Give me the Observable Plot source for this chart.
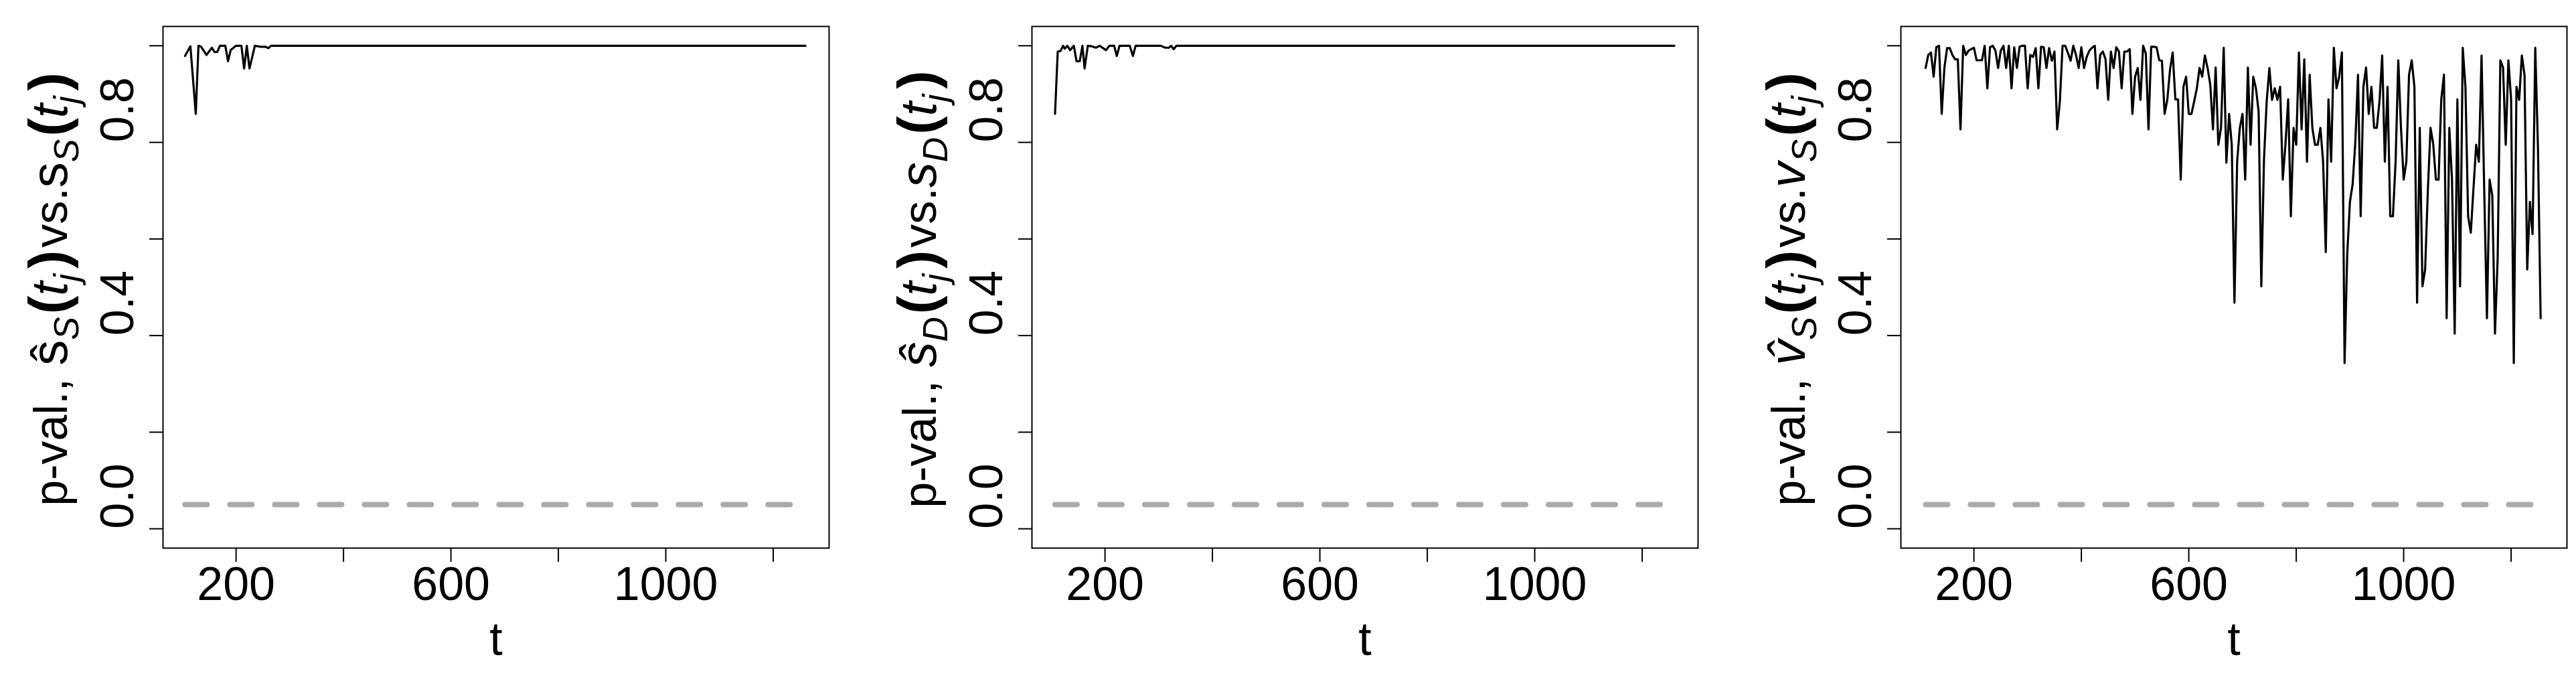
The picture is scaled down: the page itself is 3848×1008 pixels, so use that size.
<!DOCTYPE html>
<html><head><meta charset="utf-8">
<script src="https://cdn.jsdelivr.net/npm/d3@7"></script>
<script src="https://cdn.jsdelivr.net/npm/@observablehq/plot@0.6"></script>
<style>
html,body{margin:0;padding:0;background:#fff;}
#wrap{position:relative;width:3848px;height:1008px;overflow:hidden;background:#fff;}
#wrap > svg{position:absolute;top:0;}
</style></head><body><div id="wrap"></div>
<script>
// Panel 1: p-values, s_S-hat vs s_S (flat at 1 after ~270)
const t1 = [105,115,125,130,135,145,155,160,165,170,180,185,190,200,210,215,220,225,235,245,255,260,265,1260];
const p1 = [0.979,0.999,0.859,1.0,0.998,0.981,0.996,0.987,0.987,1.0,1.0,0.968,0.991,1.0,1.0,0.953,1.0,0.953,1.0,0.998,0.998,0.995,1.0,1.0];

// Panel 2: p-values, s_D-hat vs s_D (flat at 1 after ~335)
const t2 = [107,112,117,122,125,130,135,142,147,153,158,162,168,175,183,190,202,208,217,222,227,246,252,257,304,312,319,323,328,333,1260];
const p2 = [0.859,0.988,0.989,1.0,0.994,1.0,0.991,1.0,0.968,0.968,1.0,0.953,1.0,0.999,0.996,1.0,0.991,1.0,1.0,0.979,1.0,1.0,0.979,1.0,1.0,0.996,0.996,1.0,0.993,1.0,1.0];

// Panel 3: p-values, v_S-hat vs v_S
const t3 = [
  110,115,120,125,130,135,140,145,150,155,
  160,165,170,175,180,185,190,195,200,205,
  210,215,220,225,230,235,240,245,250,255,
  260,265,270,275,280,285,290,295,300,305,
  310,315,320,325,330,335,340,345,350,355,
  360,365,370,375,380,385,390,395,400,405,
  410,415,420,425,430,435,440,445,450,455,
  460,465,470,475,480,485,490,495,500,505,
  510,515,520,525,530,535,540,545,550,555,
  560,565,570,575,580,585,590,595,600,605,
  610,615,620,625,630,635,640,645,650,655,
  660,665,670,675,680,685,690,695,700,705,
  710,715,720,725,730,735,740,745,750,755,
  760,765,770,775,780,785,790,795,800,805,
  810,815,820,825,830,835,840,845,850,855,
  860,865,870,875,880,885,890,895,900,905,
  910,915,920,925,930,935,940,945,950,955,
  960,965,970,975,980,985,990,995,1000,1005,
  1010,1015,1020,1025,1030,1035,1040,1045,1050,1055,
  1060,1065,1070,1075,1080,1085,1090,1095,1100,1105,
  1110,1115,1120,1125,1130,1135,1140,1145,1150,1155,
  1160,1165,1170,1175,1180,1185,1190,1195,1200,1205,
  1210,1215,1220,1225,1230,1235,1240,1245,1250,1255
];
const p3 = [
  0.954,0.981,0.986,0.936,0.997,1.0,0.859,0.954,0.995,0.995,
  0.981,0.972,0.972,0.827,1.0,0.981,0.990,0.993,0.996,0.970,
  0.970,0.970,1.0,0.912,0.997,1.0,0.990,0.954,0.990,1.0,
  0.954,1.0,0.912,0.997,0.954,0.998,1.0,1.0,0.912,0.981,
  0.977,0.995,0.912,0.998,0.997,0.954,0.995,0.969,0.988,0.827,
  0.885,1.0,1.0,0.985,0.969,1.0,0.981,0.954,0.997,0.954,
  0.977,0.990,0.996,1.0,0.912,0.981,0.988,0.972,0.888,0.988,
  0.954,0.997,0.988,0.912,0.988,0.988,0.993,0.859,0.936,0.954,
  0.888,1.0,0.984,0.827,0.998,0.998,0.997,0.970,0.969,0.859,
  0.888,0.950,0.986,0.889,0.889,0.723,0.915,0.936,0.859,0.859,
  0.885,0.912,0.954,0.936,0.980,0.954,0.919,0.827,0.955,0.795,
  0.830,0.996,0.758,0.859,0.795,0.468,0.760,0.830,0.859,0.723,
  0.955,0.795,0.936,0.912,0.864,0.502,0.765,0.885,0.954,0.888,
  0.912,0.888,0.915,0.723,0.797,0.889,0.647,0.830,0.795,0.986,
  0.827,0.972,0.760,0.940,0.830,0.795,0.795,0.830,0.760,0.573,
  0.889,0.760,0.996,0.912,0.936,0.986,0.343,0.570,0.677,0.713,
  0.800,0.940,0.647,0.915,0.955,0.859,0.915,0.830,0.830,0.885,
  0.980,0.760,0.915,0.647,0.647,0.760,0.970,0.830,0.723,0.760,
  0.940,0.970,0.915,0.468,0.830,0.502,0.537,0.700,0.830,0.797,
  0.723,0.723,0.889,0.940,0.436,0.830,0.723,0.404,0.889,0.502,
  0.996,0.915,0.647,0.613,0.705,0.795,0.760,0.980,0.700,0.436,
  0.723,0.690,0.404,0.560,0.970,0.955,0.795,0.970,0.889,0.343,
  0.915,0.888,0.980,0.940,0.537,0.677,0.610,0.996,0.790,0.436
];

const xTicks = [200, 400, 600, 800, 1000, 1200];
const xTickLabels = [200, 600, 1000];
const yTicks = [0, 0.2, 0.4, 0.6, 0.8, 1.0];
const yTickLabels = [0, 0.4, 0.8];
const alpha = 0.05;
const xLabel = "t";

// y-axis label pieces: [text, kind]  n=normal, m=math upright, i=math italic, sub=subscript, po/pc=parens
const yLab1 = [["p-val., ","n"],["ŝ","m"],["S","sub"],["(","po"],["t","i"],["j","sub"],[")","pc"],["vs.","n"],["s","m"],["S","sub"],["(","po"],["t","i"],["j","sub"],[")","pc"]];
const yLab2 = [["p-val., ","n"],["ŝ","i"],["D","sub"],["(","po"],["t","i"],["j","sub"],[")","pc"],["vs.","n"],["s","i"],["D","sub"],["(","po"],["t","i"],["j","sub"],[")","pc"]];
const yLab3 = [["p-val., ","n"],["v\u0302","i"],["S","sub"],["(","po"],["t","i"],["j","sub"],[")","pc"],["vs.","n"],["v","i"],["S","sub"],["(","po"],["t","i"],["j","sub"],[")","pc"]];

const FONT = "'Liberation Sans', Arial, Helvetica, sans-serif";
const W = 1248, H = 1008, ML = 243, MR = 10, MT = 39, MB = 190;

function panel(t, p, lab) {
  const data = t.map((d, i) => ({t: d, p: p[i]}));
  const ref = [{t: d3.min(t), p: alpha}, {t: d3.max(t), p: alpha}];
  const svg = Plot.plot({
    width: W, height: H,
    marginLeft: ML, marginRight: MR, marginTop: MT, marginBottom: MB,
    x: {domain: [64, 1304]},
    y: {domain: [-0.04, 1.04]},
    style: {fontFamily: FONT, fontSize: "68px", background: "white", color: "black", overflow: "visible"},
    marks: [
      Plot.axisX({ticks: xTicks, tickSize: 21, tickFormat: () => "", strokeWidth: 2, label: null}),
      Plot.axisY({ticks: yTicks, tickSize: 20, tickFormat: () => "", strokeWidth: 2, label: null}),
      Plot.text(xTickLabels, {x: d => d, text: d => String(d), frameAnchor: "bottom", dy: 55, lineAnchor: "middle", fontSize: 70}),
      Plot.text(yTickLabels, {y: d => d, text: d => d.toFixed(1), frameAnchor: "left", dx: -67, rotate: -90, lineAnchor: "middle", fontSize: 70}),
      Plot.text([xLabel], {text: d => d, frameAnchor: "bottom", dy: 137, lineAnchor: "middle", fontSize: 70}),
      Plot.line(ref, {x: "t", y: "p", stroke: "#aaaaaa", strokeWidth: 8, strokeDasharray: "33,34", strokeLinecap: "round"}),
      Plot.line(data, {x: "t", y: "p", stroke: "black", strokeWidth: 3.2}),
      Plot.frame({stroke: "black", strokeWidth: 2})
    ]
  });
  const txt = d3.select(svg).append("text")
    .attr("transform", `translate(100,${432}) rotate(-90)`)
    .attr("text-anchor", "middle")
    .attr("fill", "black")
    .style("font-family", FONT)
    .style("font-size", "70px");
  let shifted = false;
  for (const [s, kind] of lab) {
    const ts = txt.append("tspan").text(s);
    if (kind === "sub") {
      ts.attr("dy", shifted ? null : 17).style("font-size", "52px").style("font-style", "italic");
      shifted = true;
    } else {
      if (shifted) ts.attr("dy", -17);
      shifted = false;
      if (kind === "i") ts.style("font-style", "italic").style("font-size", "76px");
      if (kind === "m") ts.style("font-size", "76px");
      if (kind === "po") ts.style("font-weight", "bold").style("font-size", "82px").attr("dx", 4);
      if (kind === "pc") ts.style("font-weight", "bold").style("font-size", "82px").attr("dx", 8);
      if (kind === "n" && s === "vs.") ts.attr("dx", 4);
    }
  }
  return svg;
}

const wrap = document.getElementById("wrap");
[[t1, p1, yLab1], [t2, p2, yLab2], [t3, p3, yLab3]].forEach(([t, p, lab], i) => {
  const svg = panel(t, p, lab);
  svg.style.left = (i * 1298) + "px";
  wrap.appendChild(svg);
});
</script>
</body></html>
